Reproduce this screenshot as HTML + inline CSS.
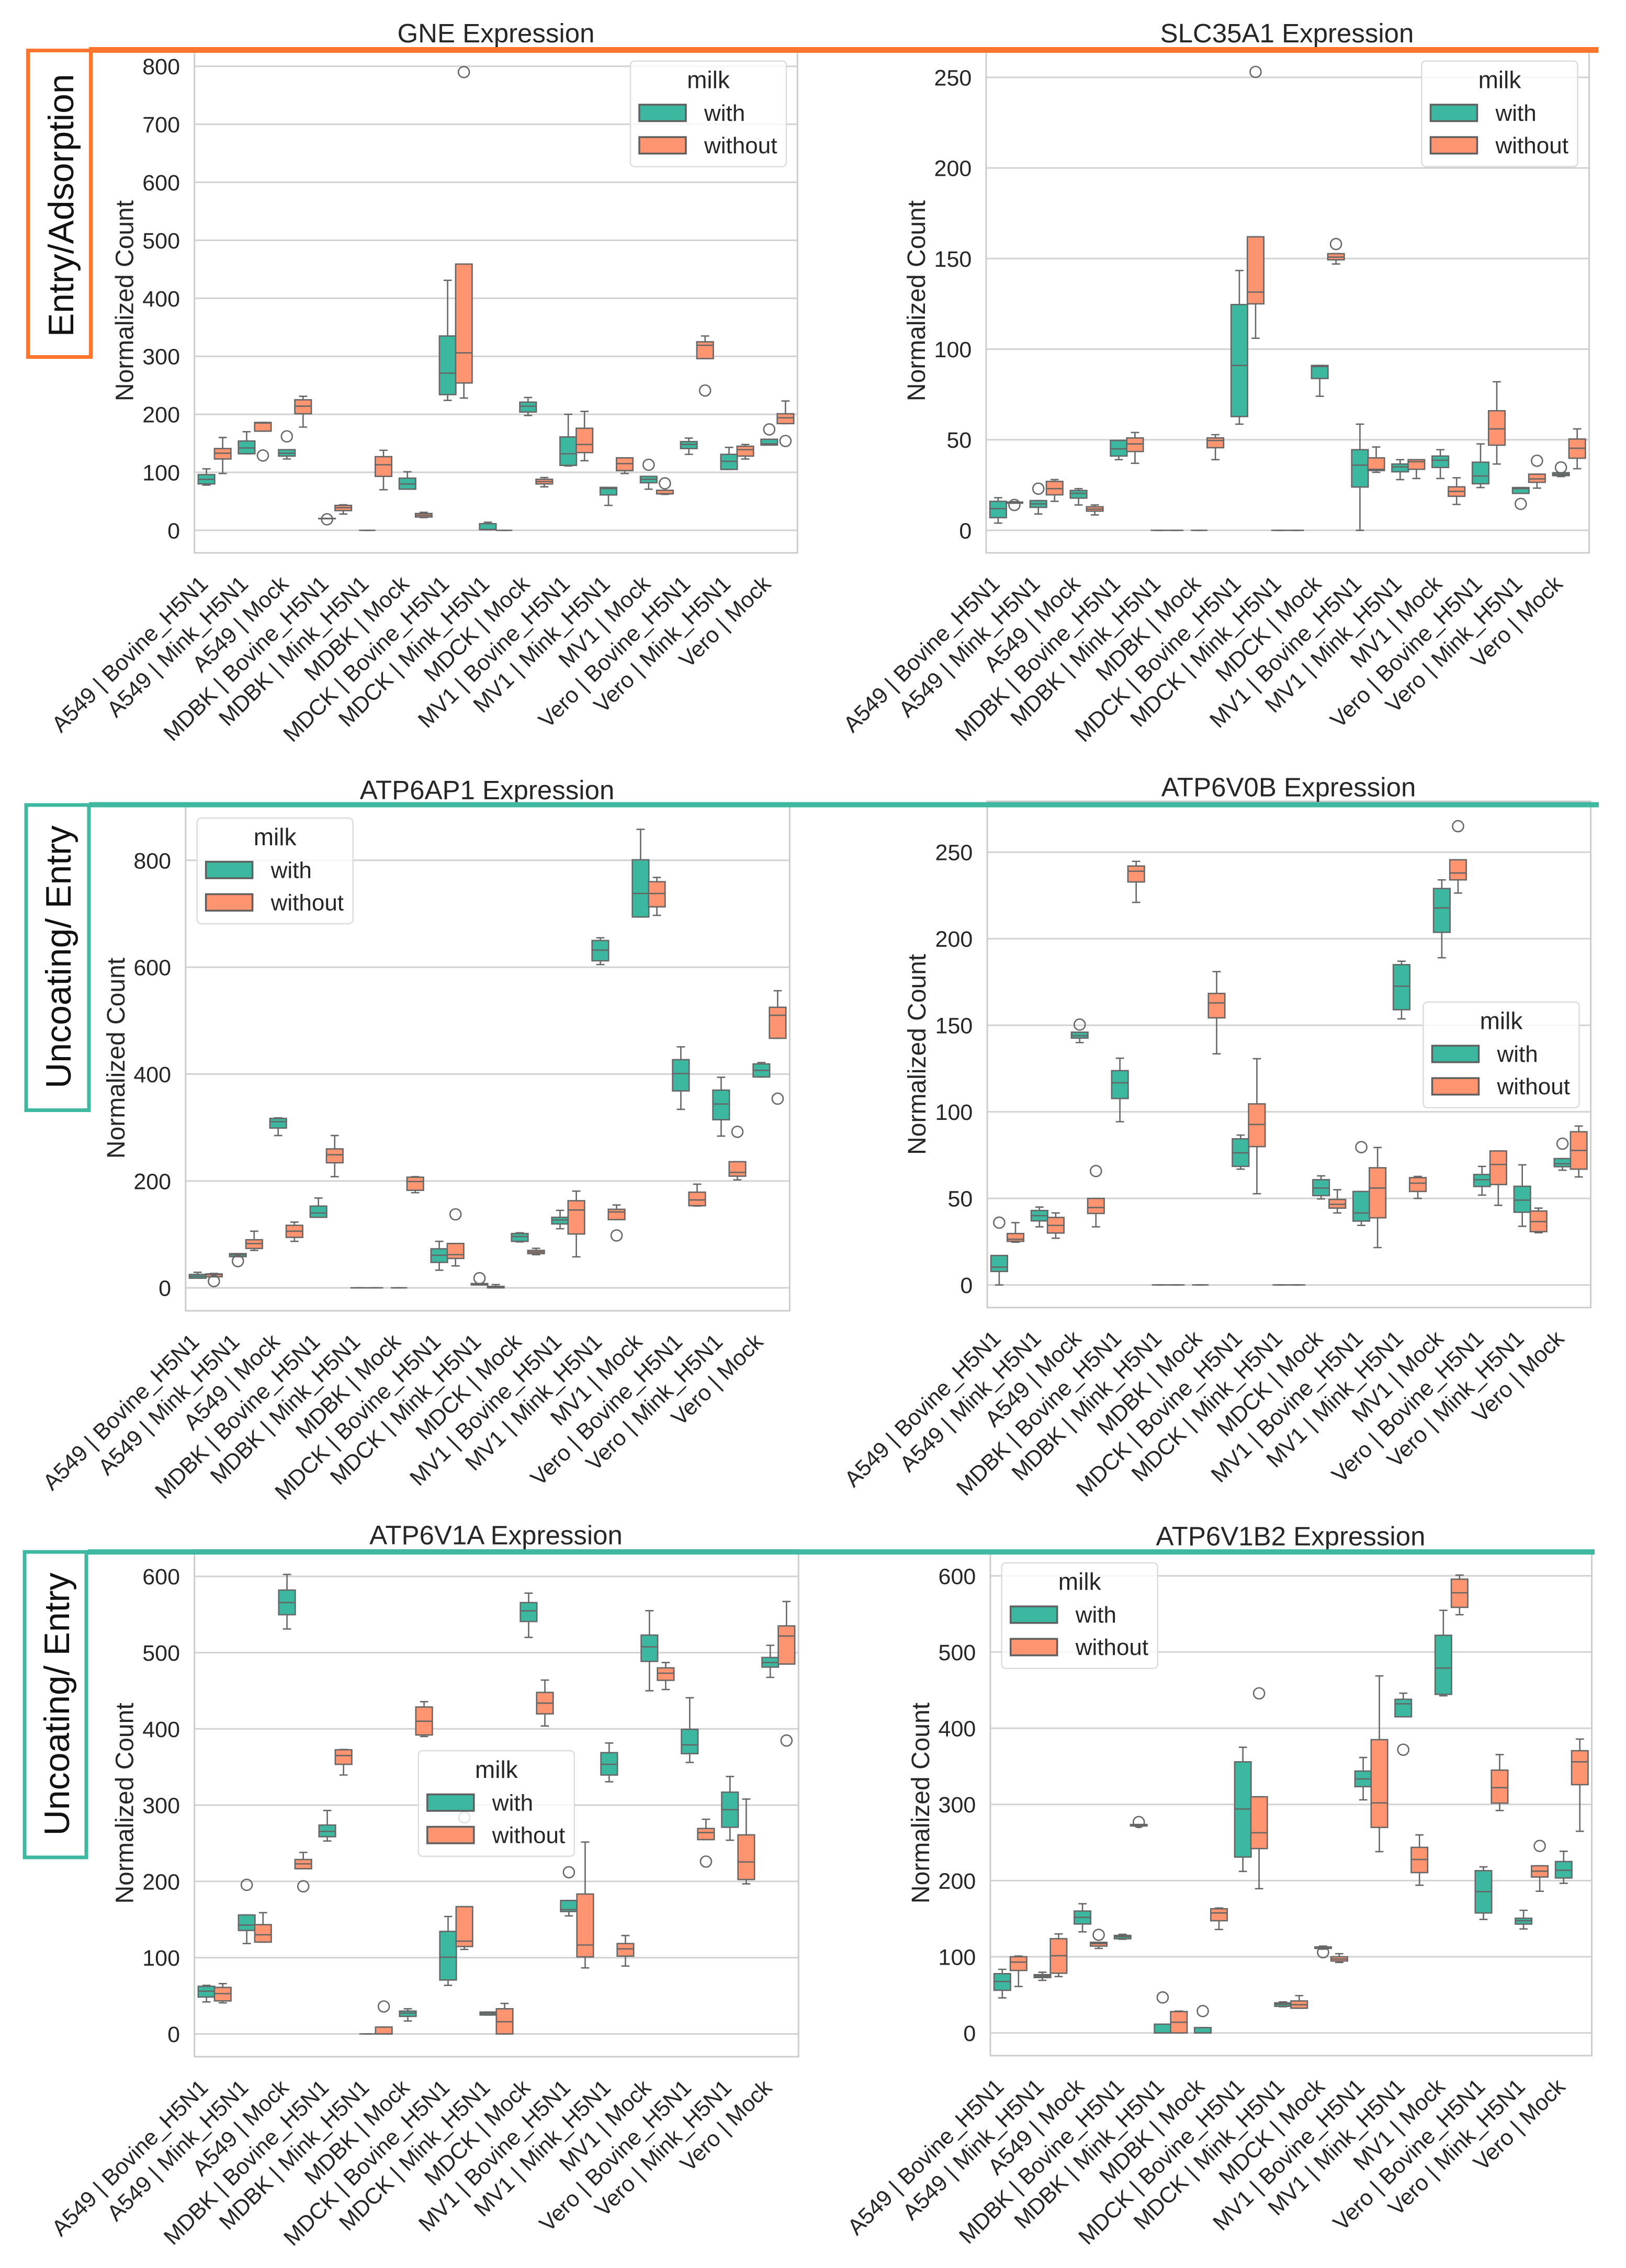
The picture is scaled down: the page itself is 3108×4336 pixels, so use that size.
<!DOCTYPE html>
<html lang="en">
<head>
<meta charset="utf-8">
<title>Gene expression box plots</title>
<style>
html,body{margin:0;padding:0;background:#fff;}
svg{display:block;font-family:"Liberation Sans",Arial,sans-serif;fill:#262626;}
.title{font-size:51px;text-anchor:middle;}
.ylab{font-size:48px;text-anchor:middle;}
.group{font-size:68px;text-anchor:middle;fill:#111;}
.lt{font-size:46px;text-anchor:middle;}
.li{font-size:44px;}
.tick{font-size:43px;text-anchor:end;}
.cat{font-size:43px;text-anchor:end;}
</style>
</head>
<body>
<svg id="fig" xmlns="http://www.w3.org/2000/svg" width="3108" height="4336" viewBox="0 0 3108 4336">
<rect x="0" y="0" width="3108" height="4336" fill="#fff"/>

<g>
  <g id="plot-gne"></g>
  <text class="title" x="948" y="81">GNE Expression</text>
  <text class="ylab" x="254.7" y="575" transform="rotate(-90 254.7 575)">Normalized Count</text>
  <g transform="translate(1205 116.6)">
    <rect width="298" height="202" rx="8" fill="rgba(255,255,255,.8)" stroke="#dcdcdc" stroke-width="2.5"/>
    <text class="lt" x="149" y="52">milk</text>
    <rect x="17" y="83.5" width="89" height="31.5" fill="#3DB8A0" stroke="#5f5f5f" stroke-width="3.5"/>
    <text class="li" x="141" y="114.5">with</text>
    <rect x="17" y="145.5" width="89" height="31.5" fill="#FF9470" stroke="#5f5f5f" stroke-width="3.5"/>
    <text class="li" x="141" y="176.5">without</text>
  </g>
</g>

<g>
  <g id="plot-slc"></g>
  <text class="title" x="2460" y="81">SLC35A1 Expression</text>
  <text class="ylab" x="1768" y="575" transform="rotate(-90 1768 575)">Normalized Count</text>
  <g transform="translate(2717.5 116.6)">
    <rect width="298" height="202" rx="8" fill="rgba(255,255,255,.8)" stroke="#dcdcdc" stroke-width="2.5"/>
    <text class="lt" x="149" y="52">milk</text>
    <rect x="17" y="83.5" width="89" height="31.5" fill="#3DB8A0" stroke="#5f5f5f" stroke-width="3.5"/>
    <text class="li" x="141" y="114.5">with</text>
    <rect x="17" y="145.5" width="89" height="31.5" fill="#FF9470" stroke="#5f5f5f" stroke-width="3.5"/>
    <text class="li" x="141" y="176.5">without</text>
  </g>
</g>

<g>
  <g id="plot-ap1"></g>
  <text class="title" x="931" y="1528">ATP6AP1 Expression</text>
  <text class="ylab" x="238" y="2023" transform="rotate(-90 238 2023)">Normalized Count</text>
  <g transform="translate(376.6 1564)">
    <rect width="298" height="202" rx="8" fill="rgba(255,255,255,.8)" stroke="#dcdcdc" stroke-width="2.5"/>
    <text class="lt" x="149" y="52">milk</text>
    <rect x="17" y="83.5" width="89" height="31.5" fill="#3DB8A0" stroke="#5f5f5f" stroke-width="3.5"/>
    <text class="li" x="141" y="114.5">with</text>
    <rect x="17" y="145.5" width="89" height="31.5" fill="#FF9470" stroke="#5f5f5f" stroke-width="3.5"/>
    <text class="li" x="141" y="176.5">without</text>
  </g>
</g>

<g>
  <g id="plot-v0b"></g>
  <text class="title" x="2463" y="1522.6">ATP6V0B Expression</text>
  <text class="ylab" x="1769" y="2015.8" transform="rotate(-90 1769 2015.8)">Normalized Count</text>
  <g transform="translate(2720.5 1915.7)">
    <rect width="298" height="202" rx="8" fill="rgba(255,255,255,.8)" stroke="#dcdcdc" stroke-width="2.5"/>
    <text class="lt" x="149" y="52">milk</text>
    <rect x="17" y="83.5" width="89" height="31.5" fill="#3DB8A0" stroke="#5f5f5f" stroke-width="3.5"/>
    <text class="li" x="141" y="114.5">with</text>
    <rect x="17" y="145.5" width="89" height="31.5" fill="#FF9470" stroke="#5f5f5f" stroke-width="3.5"/>
    <text class="li" x="141" y="176.5">without</text>
  </g>
</g>

<g>
  <g id="plot-v1a"></g>
  <text class="title" x="948" y="2952.4">ATP6V1A Expression</text>
  <text class="ylab" x="254.7" y="3447.4" transform="rotate(-90 254.7 3447.4)">Normalized Count</text>
  <g transform="translate(799.8 3347)">
    <rect width="298" height="202" rx="8" fill="rgba(255,255,255,.8)" stroke="#dcdcdc" stroke-width="2.5"/>
    <text class="lt" x="149" y="52">milk</text>
    <rect x="17" y="83.5" width="89" height="31.5" fill="#3DB8A0" stroke="#5f5f5f" stroke-width="3.5"/>
    <text class="li" x="141" y="114.5">with</text>
    <rect x="17" y="145.5" width="89" height="31.5" fill="#FF9470" stroke="#5f5f5f" stroke-width="3.5"/>
    <text class="li" x="141" y="176.5">without</text>
  </g>
</g>

<g>
  <g id="plot-v1b"></g>
  <text class="title" x="2467" y="2954.3">ATP6V1B2 Expression</text>
  <text class="ylab" x="1776" y="3447" transform="rotate(-90 1776 3447)">Normalized Count</text>
  <g transform="translate(1914.7 2987.7)">
    <rect width="298" height="202" rx="8" fill="rgba(255,255,255,.8)" stroke="#dcdcdc" stroke-width="2.5"/>
    <text class="lt" x="149" y="52">milk</text>
    <rect x="17" y="83.5" width="89" height="31.5" fill="#3DB8A0" stroke="#5f5f5f" stroke-width="3.5"/>
    <text class="li" x="141" y="114.5">with</text>
    <rect x="17" y="145.5" width="89" height="31.5" fill="#FF9470" stroke="#5f5f5f" stroke-width="3.5"/>
    <text class="li" x="141" y="176.5">without</text>
  </g>
</g>

<g>
  <rect x="53.5" y="96.5" width="120" height="586" fill="none" stroke="#FF752E" stroke-width="7"/>
  <rect x="170" y="90" width="2885" height="11" fill="#FF752E"/>
  <text class="group" x="140" y="392.7" transform="rotate(-90 140 392.7)">Entry/Adsorption</text>
</g>
<g>
  <rect x="50" y="1539" width="120" height="583.5" fill="none" stroke="#3FB8A2" stroke-width="7"/>
  <rect x="170" y="1533.5" width="2886" height="10" fill="#3FB8A2"/>
  <text class="group" x="135" y="1829.5" transform="rotate(-90 135 1829.5)">Uncoating/ Entry</text>
</g>
<g>
  <rect x="47" y="2967" width="118" height="584" fill="none" stroke="#3FB8A2" stroke-width="7"/>
  <rect x="168" y="2962" width="2880" height="10" fill="#3FB8A2"/>
  <text class="group" x="132" y="3258" transform="rotate(-90 132 3258)">Uncoating/ Entry</text>
</g>
</svg>

<script>
// Row format: [lowWhisker, q1, median, q3, highWhisker, ...outliers]
const categories = ["A549 | Bovine_H5N1","A549 | Mink_H5N1","A549 | Mock","MDBK | Bovine_H5N1","MDBK | Mink_H5N1","MDBK | Mock","MDCK | Bovine_H5N1","MDCK | Mink_H5N1","MDCK | Mock","MV1 | Bovine_H5N1","MV1 | Mink_H5N1","MV1 | Mock","Vero | Bovine_H5N1","Vero | Mink_H5N1","Vero | Mock"];

const gneTicks = [0,100,200,300,400,500,600,700,800];
const gneWith = [
[78,80,88,96,106],[132,132,142,154,170],[123,128,133,139,139,162],[20,20,20,20.5,20.5,19],[0,0,0,0,0],
[71,71,80,90,101],[224,234,271,335,431],[1,1,1.5,11.5,14],[198,204,214,221,229],[111,112,132,161,200],
[43,61,72,74,74],[71,82,88,93,93,113],[131,141,148,153,159],[105,105,119,131,143],[147,147,149,157,157,174]];
const gneWithout = [
[98,123,133,141,160],[171,171,185,186,186,129],[178,201,214,225,231],[28,34,39,43,44],[70,93,113,127,138],
[22,23,26,29,31],[228,254,306,459,459,790],[0,0,0,0,0],[75,80,84,88,91],[120,134,148,176,205],
[98,103,115,125,125],[62,63,63,69,69,81],[296,296,319,325,335,241],[123,128,139,145,148],[184,184,194,201,223,154]];

const slcTicks = [0,50,100,150,200,250];
const slcWith = [
[4,7,12,16,18],[9,12.7,14.6,16.4,16.4,23],[14,17.8,20.4,22,23],[39,41,45,49.6,49.6],[0,0,0,0,0],
[0,0,0,0,0],[58.6,62.8,91,124.6,143.4],[0,0,0,0,0],[74,83.8,90.4,91,91],[0,23.9,36,44.5,58.6],
[28,32.3,35,36.6,39],[28.6,34.7,38.7,41,44.5],[23.6,25.7,30,37.6,47.7],[20.4,20.4,23,23.6,23.6,14.6],[29.7,30.2,31,31.8,31.8,34.7]];
const slcWithout = [
[15,15,15.3,15.6,15.8,14],[16,19.6,23,27,28],[8.5,10.6,11.7,13,14],[37,43.5,47.7,51,54],[0,0,0,0,0],
[39,45.6,49.6,51,52.8],[106,125,131.5,162,162,253],[0,0,0,0,0],[147,149.3,150.8,152.7,152.7,158],[32,33,33.7,40,46],
[28.6,33.7,37.9,39,39],[14.3,18.8,21.5,24,29],[36.6,47,56,66,82],[23.3,26.5,28.4,31,31,38.4],[34,39.8,45.3,50.4,56]];

const ap1Ticks = [0,200,400,600,800];
const ap1With = [
[18,18,21.6,25,29],[58.4,58.4,62,64,64,50],[285,299,311,317,318],[132,132,140,153,168],[0,0,0,0,0],
[0,0,0,0,0],[33,47.6,61,73,87],[5.4,5.4,7,8,8,18],[86,87,96,101.6,103],[110.6,119.6,127,132,145],
[605,612,632,650,655],[694,694,738,801,858],[334,368.5,401,427,451],[284,314.6,344,370,394],[394.6,394.6,407,419,421.6]];
const ap1Without = [
[20.7,20.7,25,26,27,12.6],[70,73.7,82.7,90,106],[87,94.4,106,117,123],[208,234,249,260,285],[0,0,0,0,0],
[178,182.5,199,207,208],[41,55,62,83,83,137.5],[0,0,1,2.7,6],[62,64,67,70,74],[58,100.7,145.6,163,181],
[127.6,127.6,142,147,155,98],[697,713,738,760,768],[153,153.7,164.5,179,194],[202,209,216,236,236,292],[467,467,510,525,556,354]];

const v0bTicks = [0,50,100,150,200,250];
const v0bWith = [
[0,7.8,10.3,17,17,36],[33.6,37,40,43,45],[140,142.6,144,146,146,150.4],[94.3,107.7,116.8,123.8,131],[0,0,0,0,0],
[0,0,0,0,0],[66.9,68.5,76.3,84.4,86.6],[0,0,0,0,0],[49.7,51.6,56,60.8,63],[34.4,36.9,41.6,54,54,79.6],
[153.7,159,172.6,185,187],[189,203.7,217.8,229,234],[51.9,56.9,60.8,63.8,68.5],[33.9,42,49,57,69.4],[66.3,68.3,70,73,73,81.6]];
const v0bWithout = [
[24.7,25.2,26.4,29.7,36],[27,30,34.4,39,41.6],[33.6,41.3,44.7,50,50,65.8],[221,232.8,239,242,244.7],[0,0,0,0,0],
[133.5,154.3,162.9,168.4,181],[52.7,79.9,92.7,104.6,130.7],[0,0,0,0,0],[41.6,44.4,46.6,49.4,55],[21.6,38.8,56,67.7,79.4],
[50,54,58.8,62,62.7],[226.4,234,238,245.6,245.6,265],[46,58,69.6,77.4,77.4],[30.2,30.8,36.6,42.7,44.4],[62.4,66.9,77.7,88.5,91.8]];

const v1aTicks = [0,100,200,300,400,500,600];
const v1aWith = [
[42,48.4,56,62.4,63.7],[118.5,135.7,142.7,156,156,195.5],[531,549.7,565.6,582,602.5],[253,258.6,265.6,273.9,293],[0,0,0,0,0],
[17,23,27.4,30,33],[63.7,70.7,100.6,134.4,154],[24.8,24.8,26.8,28.7,28.7],[520,540.8,554.8,565.6,578],[154.8,160.5,163,175,175,212],
[330.6,339.5,353.5,368.8,381.5],[450,488.5,507.6,523,555],[356,367.5,379,399.4,440.8],[254,271,294,317,337.6],[467.5,481,487,493.6,509.6]];
const v1aWithout = [
[40.8,43.3,52.9,61,66],[120.4,120.4,130,143.3,159],[216.6,216.6,223,228.7,238,193.6],[339.5,353.5,365,372.6,373],[0,0,0,9,9,36],
[390,392,410,428.7,435.7],[110.8,114.6,121.7,166.9,166.9,284],[0,0,16,33,40],[403.8,419.7,433.8,447.8,464],[86.6,101,116.6,183.4,251.6],
[89,102,111.5,118.5,129],[451.6,463.7,473,480,487],[254.8,254.8,264,269.4,281.5,226],[196.8,202.5,225.5,261,308],[485,485,521.7,535,567,384.7]];

const v1bTicks = [0,100,200,300,400,500,600];
const v1bWith = [
[46,56,67.6,77.8,83.5],[69,72.7,74.6,76.5,79.7],[132.7,143,151.8,160,169.6],[123,123.7,126.3,128,129.5],[0,0,0,11.5,11.5,46.6],
[0,0,0,7,7,28.7],[212,230.9,294,355.9,375],[34.4,35,37.6,39.5,40.8],[110,111,112.2,112.9,114,105.9],[306,323.3,333.5,343.8,361.6],
[415,415,432,438,446,371.8],[442.6,444.5,479,522,554.8],[149,157.5,185.6,213,218],[136.5,142.9,147.3,150.5,161],[196.4,203.4,213.6,225,238.5]];
const v1bWithout = [
[61,82,93,100,101],[74,78.4,101.4,123.7,130],[111,114,117.3,119,119,128.8],[271,271.7,273,273.6,273.6,276.8],[0,0,14,28,28.7],
[135.8,147.3,157.5,163,164],[189.4,242,262.8,310,310,445.8],[32.5,32.5,37,42,49],[92.5,94.4,97,100,104],[238,269.8,302,385,468.7],
[193.9,210.5,227.7,243.6,260],[549,558.7,577.8,595.7,601],[292,301.7,322,345,365.4],[186,204.7,212.4,219.4,219.4,245.5],[264.7,325.9,355.9,370.5,385.8]];

const layouts = {
  gne:{left:371.7,right:1524.3,top:93,bottom:1057,zero:1013.9,ref:126.7,refV:800},
  slc:{left:1885,right:3037.6,top:93,bottom:1057,zero:1013.9,ref:147.9,refV:250},
  ap1:{left:354.8,right:1509.4,top:1540,bottom:2506,zero:2462.1,ref:1644.8,refV:800},
  v0b:{left:1887,right:3040.6,top:1532,bottom:2499.8,zero:2456.6,ref:1629.2,refV:250},
  v1a:{left:371.7,right:1526.3,top:2963,bottom:3932,zero:3888.5,ref:3013.7,refV:600},
  v1b:{left:1893,right:3042.6,top:2964,bottom:3930,zero:3886.6,ref:3012.8,refV:600}
};
const NS = 'http://www.w3.org/2000/svg';
const LINE = '#666666', GRID = '#d2d2d2', FILL_W = '#3DB8A0', FILL_WO = '#FF9470', SW = 2.6;

function make(parent, tag, attrs){
  const el = document.createElementNS(NS, tag);
  for (const k in attrs) el.setAttribute(k, attrs[k]);
  parent.appendChild(el);
  return el;
}
function yAxis(l){ const s = (l.ref - l.zero) / l.refV; return v => l.zero + v * s; }
function xAxis(l){ const w = (l.right - l.left) / categories.length; return {band:w, center:i => l.left + (i + 0.5) * w}; }

function drawBox(g, row, cx, bw, y, fill, series){
  const [lo, q1, med, q3, hi, ...outliers] = row;
  const cap = bw * 0.25;
  const box = document.createElementNS(NS, 'g');
  
  
  g.appendChild(box);
  let el = make(box, 'line', {x1:cx, x2:cx, y1:y(q3), y2:y(hi), stroke:LINE, 'stroke-width':SW});
  
  
  el = make(box, 'line', {x1:cx, x2:cx, y1:y(q1), y2:y(lo), stroke:LINE, 'stroke-width':SW});
  
  
  el = make(box, 'line', {x1:cx-cap, x2:cx+cap, y1:y(hi), y2:y(hi), stroke:LINE, 'stroke-width':SW});
  
  
  el = make(box, 'line', {x1:cx-cap, x2:cx+cap, y1:y(lo), y2:y(lo), stroke:LINE, 'stroke-width':SW});
  
  
  el = make(box, 'rect', {x:cx-bw/2, y:y(q3), width:bw, height:Math.max(0, y(q1)-y(q3)), fill:fill, stroke:LINE, 'stroke-width':SW});
  
  
  el = make(box, 'line', {x1:cx-bw/2, x2:cx+bw/2, y1:y(med), y2:y(med), stroke:LINE, 'stroke-width':SW});
  
  
  outliers.forEach(v => {
    const c = make(box, 'circle', {cx:cx, cy:y(v), r:10.5, fill:'none', stroke:LINE, 'stroke-width':SW});
    
    
  });
}

function drawPanel(id, ticks, withRows, withoutRows){
  const l = layouts[id];
  const root = document.getElementById('plot-' + id);
  const y = yAxis(l), x = xAxis(l);
  ticks.forEach(v => {
    const gl = make(root, 'line', {x1:l.left, x2:l.right, y1:y(v), y2:y(v), stroke:GRID, 'stroke-width':3});
    
    
    const t = make(root, 'text', {class:'tick', x:l.left-27.7, y:y(v)+15.5});
    t.textContent = v;
    
    
  });
  const bw = x.band * 0.41, off = x.band * 0.202;
  categories.forEach((name, i) => {
    drawBox(root, withRows[i], x.center(i)-off, bw, y, FILL_W, 'with');
    drawBox(root, withoutRows[i], x.center(i)+off, bw, y, FILL_WO, 'without');
    const tx = x.center(i) - 10, ty = l.bottom + 62;
    const t = make(root, 'text', {class:'cat', x:tx, y:ty, transform:'rotate(-45 '+tx+' '+ty+')'});
    t.textContent = name;
    
    
  });
  const frame = make(root, 'rect', {x:l.left, y:l.top, width:l.right-l.left, height:l.bottom-l.top, fill:'none', stroke:'#cccccc', 'stroke-width':3});
  
  
}

drawPanel('gne', gneTicks, gneWith, gneWithout);
drawPanel('slc', slcTicks, slcWith, slcWithout);
drawPanel('ap1', ap1Ticks, ap1With, ap1Without);
drawPanel('v0b', v0bTicks, v0bWith, v0bWithout);
drawPanel('v1a', v1aTicks, v1aWith, v1aWithout);
drawPanel('v1b', v1bTicks, v1bWith, v1bWithout);
</script>
</body>
</html>
